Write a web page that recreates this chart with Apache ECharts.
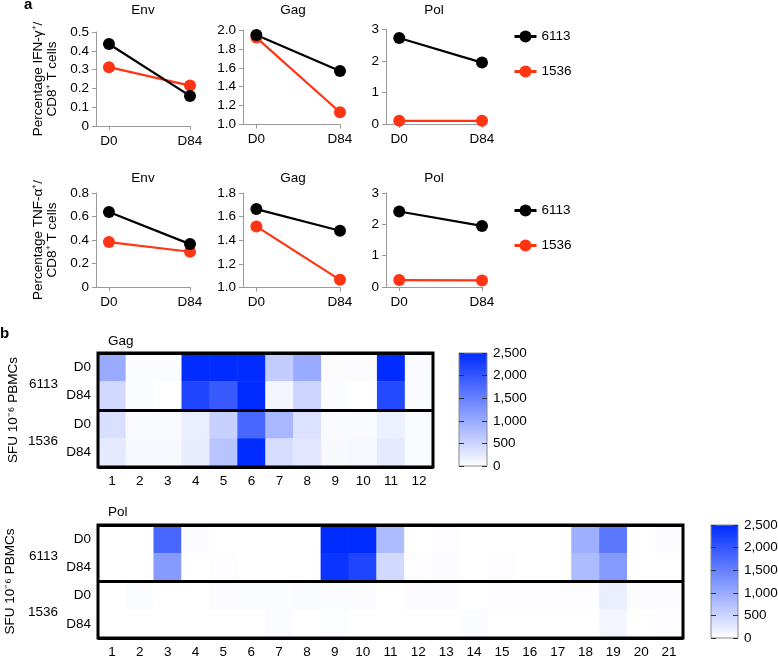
<!DOCTYPE html>
<html>
<head>
<meta charset="utf-8">
<script src="https://cdn.jsdelivr.net/npm/echarts@6/dist/echarts.min.js"></script>
<style>html,body{margin:0;padding:0;background:#fff}#c{width:778px;height:656px}</style>
</head>
<body>
<div id="c"></div>
<script>
// ---- data ----
const days = ['D0', 'D84'];
const donors = ['6113', '1536'];
// panel a, IFN-γ
const ifngEnv6113 = [0.436, 0.16];
const ifngEnv1536 = [0.313, 0.215];
const ifngGag6113 = [1.947, 1.566];
const ifngGag1536 = [1.92, 1.13];
const ifngPol6113 = [2.73, 1.95];
const ifngPol1536 = [0.1, 0.1];
// panel a, TNF-α
const tnfEnv6113 = [0.638, 0.365];
const tnfEnv1536 = [0.382, 0.30];
const tnfGag6113 = [1.664, 1.48];
const tnfGag1536 = [1.517, 1.065];
const tnfPol6113 = [2.41, 1.95];
const tnfPol1536 = [0.22, 0.21];
// panel b heatmaps (SFU per 10^6 PBMCs)
const rowLabels = ['D0', 'D84', 'D0', 'D84'];
const gagPeptides = ['1','2','3','4','5','6','7','8','9','10','11','12'];
const gag6113D0  = [1000, 40, 40, 2500, 2500, 2500, 600, 1000, 30, 30, 2500, 50];
const gag6113D84 = [450, 40, 0, 2200, 1950, 2500, 120, 500, 40, 0, 2150, 50];
const gag1536D0  = [380, 60, 60, 200, 550, 1800, 850, 350, 60, 60, 180, 50];
const gag1536D84 = [250, 70, 70, 220, 700, 2500, 400, 280, 70, 80, 250, 50];
const polPeptides = ['1','2','3','4','5','6','7','8','9','10','11','12','13','14','15','16','17','18','19','20','21'];
const pol6113D0  = [0, 0, 1800, 30, 0, 0, 0, 0, 2500, 2500, 800, 0, 20, 0, 0, 0, 0, 950, 1600, 0, 30];
const pol6113D84 = [0, 0, 1180, 0, 20, 0, 0, 0, 2400, 2200, 450, 20, 30, 0, 20, 0, 0, 800, 1200, 0, 0];
const pol1536D0  = [0, 40, 0, 0, 30, 40, 40, 50, 40, 30, 0, 30, 30, 0, 20, 20, 20, 20, 200, 30, 30];
const pol1536D84 = [0, 0, 0, 0, 0, 0, 40, 0, 25, 0, 0, 0, 0, 40, 0, 0, 0, 0, 120, 0, 20];
const colorTicks = [0, 500, 1000, 1500, 2000, 2500];

// ---- styling ----
const FONT = 'Liberation Sans, Arial, Helvetica, sans-serif';
const AX = '#9a9a9a';
const BLACK = '#000000';
const RED = '#ff3412';
const BLUE = '#002cff';
const colorMax = colorTicks[colorTicks.length - 1];

const lineGrids = [
  {left: 96, top: 32, width: 94, height: 94},
  {left: 243, top: 30, width: 97, height: 94.5},
  {left: 386, top: 29.5, width: 96, height: 94.5},
  {left: 96, top: 193, width: 94, height: 94},
  {left: 243, top: 193, width: 97, height: 94.5},
  {left: 386, top: 193, width: 96, height: 94}
];
const yRanges = [
  {min: 0, max: 0.5, interval: 0.1, fmt: v => v === 0 ? '0' : v.toFixed(1)},
  {min: 1.0, max: 2.0, interval: 0.2, fmt: v => v.toFixed(1)},
  {min: 0, max: 3, interval: 1, fmt: v => String(Math.round(v))},
  {min: 0, max: 0.8, interval: 0.2, fmt: v => v === 0 ? '0' : v.toFixed(1)},
  {min: 1.0, max: 1.8, interval: 0.2, fmt: v => v.toFixed(1)},
  {min: 0, max: 3, interval: 1, fmt: v => String(Math.round(v))}
];
const lineData = [
  [ifngEnv6113, ifngEnv1536], [ifngGag6113, ifngGag1536], [ifngPol6113, ifngPol1536],
  [tnfEnv6113, tnfEnv1536], [tnfGag6113, tnfGag1536], [tnfPol6113, tnfPol1536]
];
const yNames = [
  'Percentage IFN-γ⁺/\nCD8⁺ T cells', null, null,
  'Percentage TNF-α⁺/\nCD8⁺ T cells', null, null
];

const grid = [];
const xAxis = [];
const yAxis = [];
const series = [];

const txt = {color: '#000', fontFamily: FONT, fontSize: 13.5};

lineGrids.forEach((g, i) => {
  grid.push(Object.assign({outerBoundsMode: 'none', containLabel: false}, g));
  xAxis.push({
    gridIndex: i, type: 'value', min: -0.16, max: 1,
    axisLine: {show: true, lineStyle: {color: AX, width: 1}},
    axisTick: {show: true, customValues: [0, 1], length: 4, lineStyle: {color: AX}},
    axisLabel: Object.assign({customValues: [0, 1], margin: 8, formatter: v => days[Math.round(v)]}, txt),
    splitLine: {show: false}
  });
  const r = yRanges[i];
  const ya = {
    gridIndex: i, type: 'value', min: r.min, max: r.max, interval: r.interval,
    axisLine: {show: true, onZero: false, lineStyle: {color: AX, width: 1}},
    axisTick: {show: true, length: 4, lineStyle: {color: AX}},
    axisLabel: Object.assign({margin: 7, formatter: r.fmt}, txt),
    splitLine: {show: false}
  };
  if (yNames[i]) {
    Object.assign(ya, {
      name: yNames[i], nameLocation: 'middle', nameRotate: 90, nameGap: 37,
      nameTextStyle: {color: '#000', fontFamily: FONT, fontSize: 13.5, lineHeight: 13.5}
    });
  }
  yAxis.push(ya);
  // red first so black sits on top
  const pair = lineData[i];
  [[donors[1], pair[1], RED], [donors[0], pair[0], BLACK]].forEach(([name, vals, col]) => {
    series.push({
      type: 'line', name: name, xAxisIndex: i, yAxisIndex: i,
      data: vals.map((v, k) => [k, v]),
      symbol: 'circle', symbolSize: 12, color: col,
      lineStyle: {color: col, width: 2.2}, itemStyle: {color: col},
      silent: true, animation: false
    });
  });
});

function heatData(rows) {
  const out = [];
  rows.forEach((arr, r) => arr.forEach((v, c) => out.push([c, r, v])));
  return out;
}

function addHeat(cfg) {
  const gi = grid.length;
  grid.push({left: cfg.left, top: cfg.top, width: cfg.width, height: cfg.height,
    outerBoundsMode: 'none', containLabel: false,
    show: true, borderColor: '#000', borderWidth: 3, backgroundColor: 'transparent', z: 4});
  const xi = xAxis.length;
  xAxis.push({
    gridIndex: gi, type: 'category', data: cfg.cats, position: 'bottom',
    axisLine: {show: false}, axisTick: {show: false},
    axisLabel: Object.assign({margin: 7, interval: 0}, txt), splitLine: {show: false}
  });
  const yi = yAxis.length;
  yAxis.push({
    gridIndex: gi, type: 'category', data: rowLabels, inverse: true, position: 'left',
    axisLine: {show: false}, axisTick: {show: false},
    axisLabel: Object.assign({margin: 7}, txt), splitLine: {show: false}
  });
  yAxis.push({
    gridIndex: gi, type: 'category', data: donors, inverse: true, z: 6, position: 'left', offset: 0,
    axisLine: {show: false}, axisTick: {show: false},
    axisLabel: Object.assign({margin: 40, verticalAlign: 'top', padding: [-4, 0, 0, 0]}, txt),
    splitLine: {show: true, lineStyle: {color: '#000', width: 3}},
    name: 'SFU 10⁻⁶ PBMCs', nameLocation: 'middle', nameRotate: 90, nameGap: 78,
    nameTextStyle: {color: '#000', fontFamily: FONT, fontSize: 13.5}
  });
  series.push({
    type: 'heatmap', xAxisIndex: xi, yAxisIndex: yi, z: 1,
    data: heatData(cfg.rows), silent: true, animation: false,
    itemStyle: {borderWidth: 0}
  });
  const heatSeriesIndex = series.length - 1;
  // colour bar
  const cg = grid.length;
  grid.push({left: cfg.cbLeft, top: cfg.top, width: cfg.cbWidth, height: cfg.cbHeight,
    outerBoundsMode: 'none', containLabel: false,
    show: true, borderColor: '#8a8a8a', borderWidth: 1, backgroundColor: 'transparent', z: 4});
  const cx = xAxis.length;
  xAxis.push({gridIndex: cg, type: 'category', data: ['scale'], show: false});
  yAxis.push({
    gridIndex: cg, type: 'value', position: 'left', min: 0, max: colorMax, interval: 500, z: 6,
    axisLine: {show: false}, axisTick: {show: true, inside: true, length: 5, lineStyle: {color: '#333'}},
    axisLabel: {show: false}, splitLine: {show: false}
  });
  const cyR = yAxis.length;
  yAxis.push({
    gridIndex: cg, type: 'value', position: 'right', min: 0, max: colorMax, interval: 500, z: 6,
    axisLine: {show: false}, axisTick: {show: true, inside: true, length: 5, lineStyle: {color: '#333'}},
    axisLabel: Object.assign({margin: 6, formatter: v => v.toLocaleString('en-US')}, txt),
    splitLine: {show: false}
  });
  series.push({
    type: 'bar', xAxisIndex: cx, yAxisIndex: cyR, data: [colorMax], barWidth: '100%', z: 1,
    silent: true, animation: false,
    itemStyle: {color: {type: 'linear', x: 0, y: 0, x2: 0, y2: 1,
      colorStops: [{offset: 0, color: BLUE}, {offset: 1, color: '#ffffff'}]}}
  });
  return heatSeriesIndex;
}

const hGag = addHeat({left: 98, top: 353, width: 335, height: 114, cats: gagPeptides,
  rows: [gag6113D0, gag6113D84, gag1536D0, gag1536D84], cbLeft: 459, cbWidth: 28, cbHeight: 113});
const hPol = addHeat({left: 98, top: 525, width: 585, height: 113, cats: polPeptides,
  rows: [pol6113D0, pol6113D84, pol1536D0, pol1536D84], cbLeft: 711, cbWidth: 27, cbHeight: 113});

const titleStyle = {color: '#000', fontFamily: FONT, fontSize: 13.5, fontWeight: 'normal'};
const title = [
  {text: 'a', left: 24, top: -3, padding: 0, textStyle: {color: '#000', fontFamily: FONT, fontSize: 15, fontWeight: 'bold'}},
  {text: 'b', left: 0, top: 326, padding: 0, textStyle: {color: '#000', fontFamily: FONT, fontSize: 15, fontWeight: 'bold'}},
  {text: 'Env', left: 143, top: 3, padding: 0, textAlign: 'center', textStyle: titleStyle},
  {text: 'Gag', left: 293, top: 3, padding: 0, textAlign: 'center', textStyle: titleStyle},
  {text: 'Pol', left: 434, top: 3, padding: 0, textAlign: 'center', textStyle: titleStyle},
  {text: 'Env', left: 143, top: 171, padding: 0, textAlign: 'center', textStyle: titleStyle},
  {text: 'Gag', left: 293, top: 171, padding: 0, textAlign: 'center', textStyle: titleStyle},
  {text: 'Pol', left: 434, top: 171, padding: 0, textAlign: 'center', textStyle: titleStyle},
  {text: 'Gag', left: 108, top: 334, padding: 0, textStyle: titleStyle},
  {text: 'Pol', left: 108, top: 505, padding: 0, textStyle: titleStyle}
];

const legendBase = {
  orient: 'vertical', data: donors, itemWidth: 22, itemHeight: 15, itemGap: 21,
  padding: 0, textStyle: Object.assign({}, txt), selectedMode: false,
  lineStyle: {width: 3}
};
const legend = [
  Object.assign({left: 513, top: 29.5}, legendBase),
  Object.assign({left: 513, top: 203.5}, legendBase)
];

const chart = echarts.init(document.getElementById('c'), null, {renderer: 'canvas'});
chart.setOption({
  animation: false,
  backgroundColor: '#fff',
  textStyle: {fontFamily: FONT},
  title, legend, grid, xAxis, yAxis, series,
  visualMap: {
    type: 'continuous', show: false, min: 0, max: colorMax,
    seriesIndex: [hGag, hPol],
    inRange: {color: ['#ffffff', BLUE]}
  }
});
</script>
</body>
</html>
